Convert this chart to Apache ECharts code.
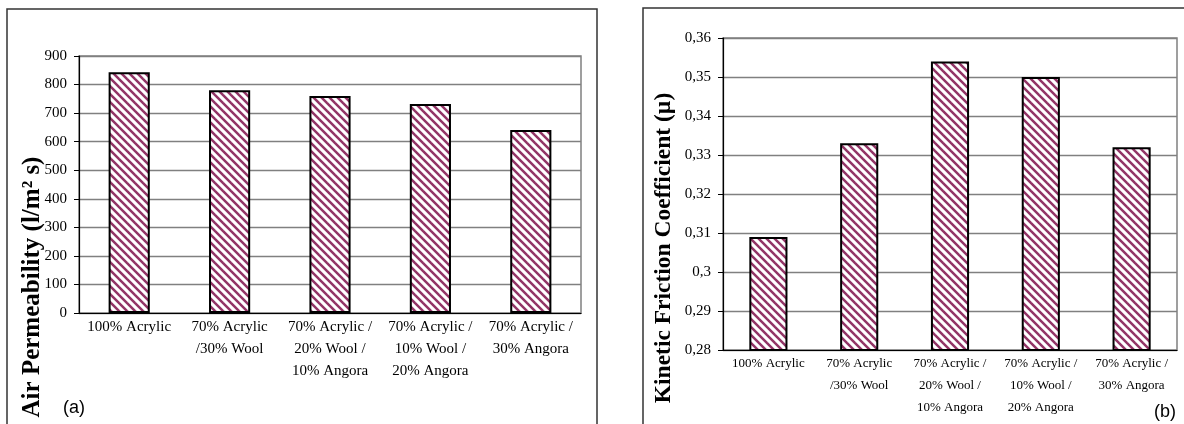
<!DOCTYPE html>
<html>
<head>
<meta charset="utf-8">
<script src="https://cdn.jsdelivr.net/npm/echarts@6/dist/echarts.min.js"></script>
<style>
html, body { margin: 0; padding: 0; background: #fff; }
#chart { width: 1184px; height: 424px; }
</style>
</head>
<body>
<div id="chart"></div>
<script>
// blends (same for both panels)
var categories = [
	'100% Acrylic',
	'70% Acrylic\n/30% Wool',
	'70% Acrylic /\n20% Wool /\n10% Angora',
	'70% Acrylic /\n10% Wool /\n20% Angora',
	'70% Acrylic /\n30% Angora'
];
// (a) air permeability, l/m2 s
var airPermeability = [843, 780, 760, 732, 641];
// (b) kinetic friction coefficient
var frictionCoeff = [0.309, 0.333, 0.354, 0.350, 0.332];

var serif = '"Liberation Serif", "Times New Roman", serif';
var sans = '"Liberation Sans", Arial, sans-serif';

// diagonal hatch like the excel pattern fill
function hatch() {
	var c = document.createElement('canvas');
	c.width = 8; c.height = 8;
	var ctx = c.getContext('2d');
	ctx.fillStyle = '#fff';
	ctx.fillRect(0, 0, 8, 8);
	ctx.strokeStyle = '#923466';
	ctx.lineWidth = 2.5;
	[-8, 0, 8].forEach(function (k) {
		ctx.beginPath();
		ctx.moveTo(k - 1, -1);
		ctx.lineTo(k + 9, 9);
		ctx.stroke();
	});
	return c;
}
var pattern = { image: hatch(), repeat: 'repeat' };

function catAxis(grid, fs, lh, margin) {
	return {
		type: 'category',
		gridIndex: grid,
		data: categories,
		axisLine: { lineStyle: { color: '#000', width: 1.2 } },
		axisTick: { length: 5, lineStyle: { color: '#000' } },
		axisLabel: {
			interval: 0,
			margin: margin,
			color: '#000',
			fontFamily: serif,
			fontSize: fs,
			lineHeight: lh
		}
	};
}

var option = {
	animation: false,
	grid: [
		{ left: 79, right: 603, top: 56, bottom: 111, show: true, borderColor: '#808080', borderWidth: 1.5 },
		{ left: 723, right: 7, top: 38, bottom: 74, show: true, borderColor: '#808080', borderWidth: 1.5 }
	],
	xAxis: [
		catAxis(0, 15, 22, 3),
		catAxis(1, 13, 22, 3)
	],
	yAxis: [
		{
			type: 'value', gridIndex: 0, min: 0, max: 900, interval: 100,
			axisLine: { show: true, lineStyle: { color: '#000', width: 1.2 } },
			axisTick: { show: true, length: 5, lineStyle: { color: '#000' } },
			axisLabel: { margin: 12, color: '#000', fontFamily: serif, fontSize: 15 },
			splitLine: { lineStyle: { color: '#808080', width: 1.3 } }
		},
		{
			type: 'value', gridIndex: 1, min: 0.28, max: 0.36, interval: 0.01,
			axisLine: { show: true, lineStyle: { color: '#000', width: 1.2 } },
			axisTick: { show: true, length: 5, lineStyle: { color: '#000' } },
			axisLabel: {
				margin: 12, color: '#000', fontFamily: serif, fontSize: 15,
				formatter: function (v) { return String(+v.toFixed(2)).replace('.', ','); }
			},
			splitLine: { lineStyle: { color: '#808080', width: 1.3 } }
		}
	],
	series: [
		{
			type: 'bar', xAxisIndex: 0, yAxisIndex: 0, data: airPermeability,
			barWidth: '41%',
			itemStyle: { color: pattern, borderColor: '#000', borderWidth: 2 }
		},
		{
			type: 'bar', xAxisIndex: 1, yAxisIndex: 1, data: frictionCoeff,
			barWidth: '42%',
			itemStyle: { color: pattern, borderColor: '#000', borderWidth: 2 }
		}
	],
	graphic: [
		// panel frames
		{ type: 'rect', shape: { x: 7, y: 9, width: 590, height: 430 },
		  style: { fill: 'none', stroke: '#333', lineWidth: 1.5 }, z: -1 },
		{ type: 'rect', shape: { x: 643, y: 8, width: 600, height: 430 },
		  style: { fill: 'none', stroke: '#333', lineWidth: 1.5 }, z: -1 },
		// axis titles
		{ type: 'text', x: 33, y: 287, rotation: Math.PI / 2,
		  style: { text: 'Air Permeability (l/m\u00b2 s)', font: 'bold 25px ' + serif,
			   fill: '#000', textAlign: 'center', textVerticalAlign: 'middle' } },
		{ type: 'text', x: 664, y: 248, rotation: Math.PI / 2,
		  style: { text: 'Kinetic Friction Coefficient (\u00b5)', font: 'bold 23.5px ' + serif,
			   fill: '#000', textAlign: 'center', textVerticalAlign: 'middle' } },
		// panel labels
		{ type: 'text', x: 63, y: 408,
		  style: { text: '(a)', font: '18px ' + sans, fill: '#000', textVerticalAlign: 'middle' } },
		{ type: 'text', x: 1154, y: 412,
		  style: { text: '(b)', font: '18px ' + sans, fill: '#000', textVerticalAlign: 'middle' } }
	]
};

var myChart = echarts.init(document.getElementById('chart'));
myChart.setOption(option);
</script>
</body>
</html>
